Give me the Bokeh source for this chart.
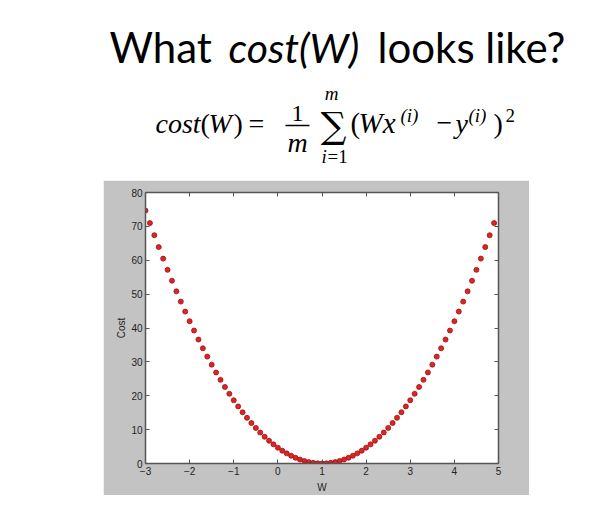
from bokeh.plotting import figure
from bokeh.models import Range1d, LinearAxis, Spacer, FixedTicker
from bokeh.layouts import column, row
from bokeh.core.properties import value
from bokeh.embed import file_html
from bokeh.resources import INLINE

# Sampled weights and their cost values
W = [-3.0, -2.9, -2.8, -2.7, -2.6, -2.5, -2.4, -2.3, -2.2, -2.1,
     -2.0, -1.9, -1.8, -1.7, -1.6, -1.5, -1.4, -1.3, -1.2, -1.1,
     -1.0, -0.9, -0.8, -0.7, -0.6, -0.5, -0.4, -0.3, -0.2, -0.1,
     0.0, 0.1, 0.2, 0.3, 0.4, 0.5, 0.6, 0.7, 0.8, 0.9,
     1.0, 1.1, 1.2, 1.3, 1.4, 1.5, 1.6, 1.7, 1.8, 1.9,
     2.0, 2.1, 2.2, 2.3, 2.4, 2.5, 2.6, 2.7, 2.8, 2.9,
     3.0, 3.1, 3.2, 3.3, 3.4, 3.5, 3.6, 3.7, 3.8, 3.9,
     4.0, 4.1, 4.2, 4.3, 4.4, 4.5, 4.6, 4.7, 4.8, 4.9]
cost = [74.67, 70.98, 67.39, 63.89, 60.48, 57.17, 53.95, 50.82, 47.79, 44.85,
        42.00, 39.25, 36.59, 34.02, 31.55, 29.17, 26.88, 24.69, 22.59, 20.58,
        18.67, 16.85, 15.12, 13.49, 11.95, 10.50, 9.15, 7.89, 6.72, 5.65,
        4.67, 3.78, 2.99, 2.29, 1.68, 1.17, 0.75, 0.42, 0.19, 0.05,
        0.00, 0.05, 0.19, 0.42, 0.75, 1.17, 1.68, 2.29, 2.99, 3.78,
        4.67, 5.65, 6.72, 7.89, 9.15, 10.50, 11.95, 13.49, 15.12, 16.85,
        18.67, 20.58, 22.59, 24.69, 26.88, 29.17, 31.55, 34.02, 36.59, 39.25,
        42.00, 44.85, 47.79, 50.82, 53.95, 57.17, 60.48, 63.89, 67.39, 70.98]
x_ticks = [-3, -2, -1, 0, 1, 2, 3, 4, 5]
y_ticks = [0, 10, 20, 30, 40, 50, 60, 70, 80]

# ---- heading: slide title and the cost formula ----
head = figure(width=610, height=180, x_range=Range1d(0, 610), y_range=Range1d(180, 0),
              output_backend="svg", toolbar_location=None, min_border=0,
              x_axis_location=None, y_axis_location=None, outline_line_color=None,
              background_fill_color="white", border_fill_color="white")
head.grid.visible = False

TITLE_FONT = value("Lato")
MATH_FONT = value("Liberation Serif")
SUM_FONT = value("DejaVu Serif")
LIFT = 0.37  # baseline correction, in em


def put(x, base, s, size, font, style="normal", align="left"):
    head.text(x=[x], y=[base - LIFT * size], text=[s], text_font=font,
              text_font_size=f"{size}px", text_font_style=style, text_align=align,
              text_baseline="alphabetic", text_color="black")


put(109, 62, "What", 42, TITLE_FONT)
put(228, 62, "cost(W)", 41, TITLE_FONT, "italic")
put(377, 62, "looks like?", 42, TITLE_FONT)

put(155, 133, "cost", 28, MATH_FONT, "italic")
put(200, 133, "(", 28, MATH_FONT)
put(208, 133, "W", 28, MATH_FONT, "italic")
put(233, 133, ")", 28, MATH_FONT)
put(248, 133, "=", 28, MATH_FONT)
put(297, 122, "1", 24, MATH_FONT, align="center")
head.segment(x0=[285], y0=[125], x1=[309], y1=[125], line_width=1.3, line_color="black")
put(297, 152, "m", 28, MATH_FONT, "italic", "center")
put(333, 138, "\u2211", 36, SUM_FONT, align="center")
put(331, 100, "m", 19, MATH_FONT, "italic", "center")
put(321, 163, "i", 19, MATH_FONT, "italic")
put(327, 163, "=1", 19, MATH_FONT)
put(350, 133, "(", 29, MATH_FONT)
put(358, 133, "Wx", 29, MATH_FONT, "italic")
put(400, 122, "(i)", 19, MATH_FONT, "italic")
put(436, 133, "\u2212", 28, MATH_FONT)
put(455, 133, "y", 28, MATH_FONT, "italic")
put(468, 122, "(i)", 19, MATH_FONT, "italic")
put(493, 133, ")", 28, MATH_FONT)
put(505, 122, "2", 19, MATH_FONT)

# ---- cost curve plot ----
AX = "#555555"
p = figure(width=426, height=315, x_range=Range1d(-3, 5), y_range=Range1d(0, 80),
           output_backend="svg", toolbar_location=None,
           min_border_left=42, min_border_right=31, min_border_top=12, min_border_bottom=30,
           border_fill_color="#c3c3c3", background_fill_color="white",
           outline_line_color=AX, outline_line_width=1)
p.grid.visible = False
p.xaxis.axis_label = "W"
p.yaxis.axis_label = "Cost"

# box axes on the top and right carry ticks only
p.add_layout(LinearAxis(), "above")
p.add_layout(LinearAxis(), "right")

for ax in p.xaxis:
    ax.ticker = FixedTicker(ticks=x_ticks)
for ax in p.yaxis:
    ax.ticker = FixedTicker(ticks=y_ticks)

for ax in p.axis:
    ax.axis_line_color = AX
    ax.axis_line_width = 1.5
    ax.major_tick_line_color = AX
    ax.major_tick_in = 4
    ax.major_tick_out = 0
    ax.minor_tick_line_color = None
    ax.major_label_text_font = "Liberation Sans"
    ax.major_label_text_font_size = "10px"
    ax.major_label_text_color = "#1e1e1e"
    ax.major_label_standoff = 3
    ax.axis_label_text_font = "Liberation Sans"
    ax.axis_label_text_font_size = "10px"
    ax.axis_label_text_font_style = "normal"
    ax.axis_label_text_color = "#1e1e1e"
    ax.axis_label_standoff = 4

p.yaxis[0].axis_label_standoff = 1

for ax in (p.above[0], p.right[0]):
    ax.major_label_text_font_size = "1px"
    ax.major_label_text_color = None
    ax.major_label_standoff = 0

p.scatter(W, cost, size=5, fill_color="#e02424", line_color="#9a1212", line_width=0.8)

layout = column(head, row(Spacer(width=103, height=315), p))
open("out.html", "w").write(file_html(layout, INLINE))
